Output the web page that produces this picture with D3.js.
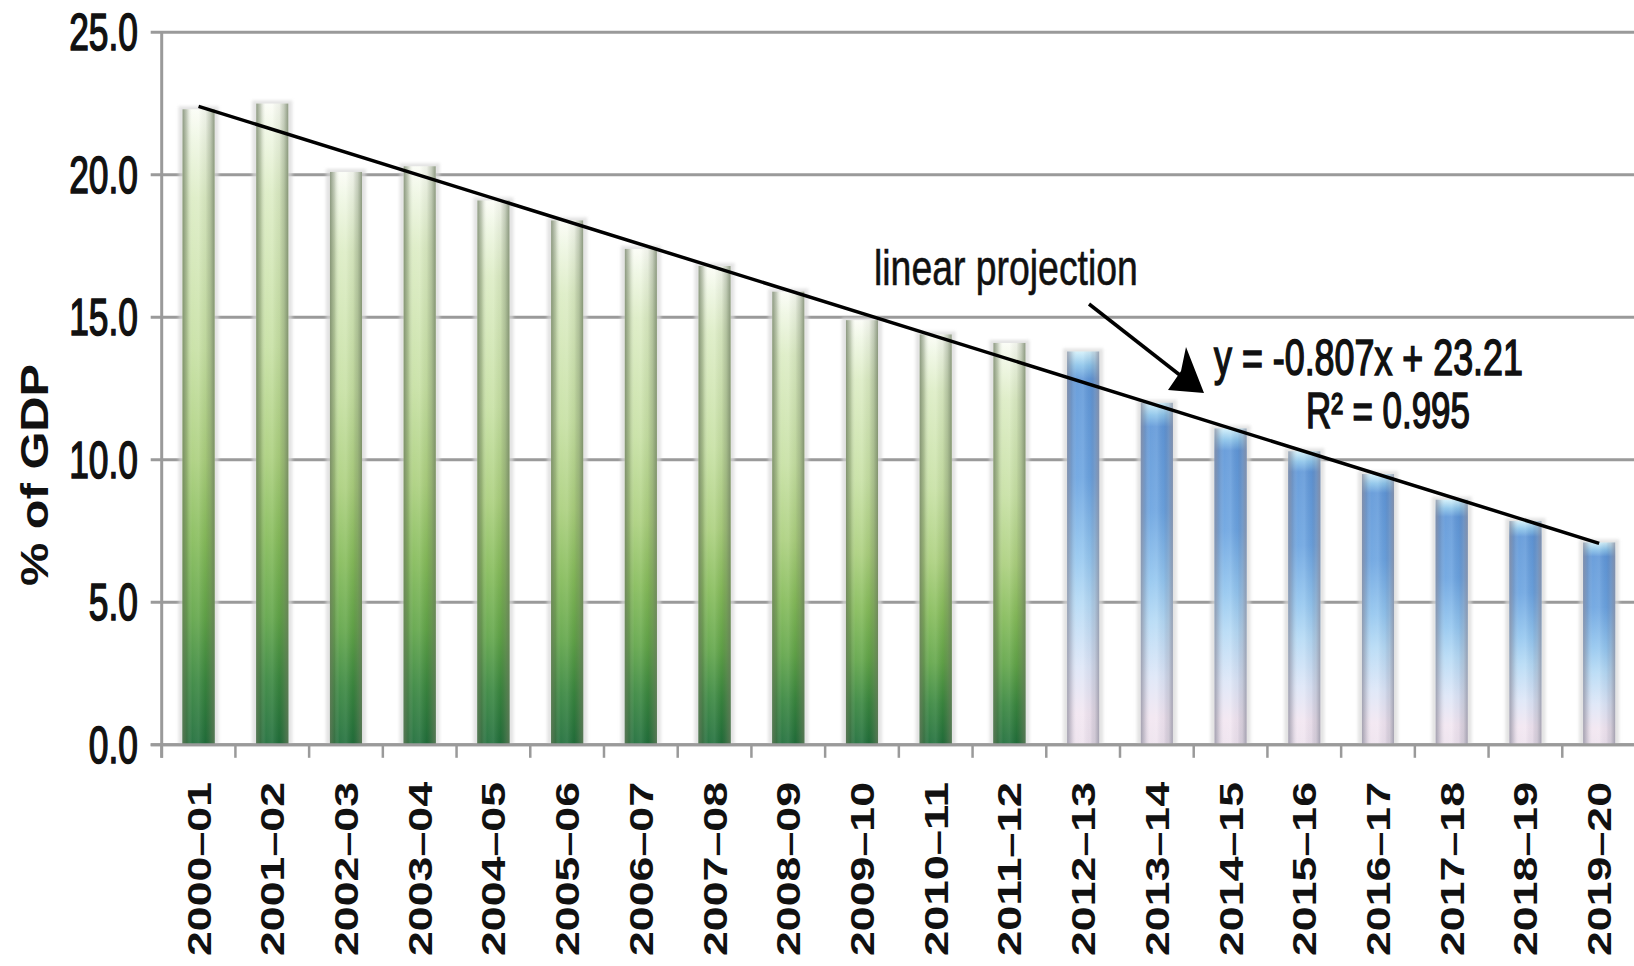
<!DOCTYPE html>
<html>
<head>
<meta charset="utf-8">
<script src="https://cdn.jsdelivr.net/npm/d3@7/dist/d3.min.js"></script>
<style>
  html, body { margin: 0; padding: 0; background: #fff; }
  svg { display: block; }
</style>
</head>
<body>
<svg id="chart" width="1634" height="966"></svg>
<script>
// Fiscal years on the category axis
const years = [
  "2000–01", "2001–02", "2002–03", "2003–04", "2004–05",
  "2005–06", "2006–07", "2007–08", "2008–09", "2009–10",
  "2010–11", "2011–12", "2012–13", "2013–14", "2014–15",
  "2015–16", "2016–17", "2017–18", "2018–19", "2019–20"
];
// Observed values, % of GDP (2000–01 to 2011–12)
const actual = [22.3, 22.5, 20.1, 20.3, 19.1, 18.4, 17.4, 16.8, 15.9, 14.9, 14.4, 14.1];
// Projected values, % of GDP (2012–13 to 2019–20)
const projected = [13.8, 12.0, 11.1, 10.3, 9.5, 8.6, 7.85, 7.1];
// Value axis ticks
const yTicks = [0, 5, 10, 15, 20, 25];
// Linear trend y = slope * x + intercept, x = 1..20
const trendSlope = -0.807;
const trendIntercept = 23.21;
const trendR2 = 0.995;

const rows = years.map((y, i) => ({
  year: y,
  value: i < actual.length ? actual[i] : projected[i - actual.length],
  kind: i < actual.length ? "actual" : "projected"
}));

const svg = d3.select("#chart");
const plotLeft = 161.7, plotRight = 1636, plotTop = 32.3, plotBottom = 744.8;

const x = d3.scaleBand().domain(years).range([plotLeft, plotRight])
  .paddingInner(0.565).paddingOuter(0.2825);
const y = d3.scaleLinear().domain([0, 25]).range([plotBottom, plotTop]);

const defs = svg.append("defs");

function vGrad(id, stops) {
  const g = defs.append("linearGradient").attr("id", id)
    .attr("x1", 0).attr("y1", 0).attr("x2", 0).attr("y2", 1);
  stops.forEach(([o, c]) => g.append("stop").attr("offset", o).attr("stop-color", c));
}
function hGrad(id, stops) {
  const g = defs.append("linearGradient").attr("id", id)
    .attr("x1", 0).attr("y1", 0).attr("x2", 1).attr("y2", 0);
  stops.forEach(([o, c, a]) => g.append("stop").attr("offset", o)
    .attr("stop-color", c).attr("stop-opacity", a));
}

vGrad("greenFill", [
  [0, "#fbfdf6"], [0.05, "#eef6e2"], [0.14, "#dcecc4"], [0.38, "#c6e0a2"],
  [0.55, "#aacf7c"], [0.68, "#84bb58"], [0.8, "#5fa446"], [0.9, "#36853c"],
  [1, "#1b6b37"]
]);
vGrad("blueFill", [
  [0, "#d2f0fa"], [0.035, "#8cc4ea"], [0.07, "#5f97d8"], [0.32, "#6aa3e0"],
  [0.52, "#93c6ef"], [0.64, "#b5daf5"], [0.8, "#dde6f7"], [0.92, "#f2e6f1"],
  [1, "#eee3ee"]
]);
hGrad("greenShade", [
  [0, "#6b7a5e", 0.75], [0.14, "#6b7a5e", 0.35], [0.3, "#ffffff", 0.08],
  [0.5, "#ffffff", 0.12], [0.72, "#556048", 0.08], [0.86, "#6b7a5e", 0.35],
  [1, "#6b7a5e", 0.75]
]);
hGrad("blueShade", [
  [0, "#8c8c9c", 0.75], [0.14, "#8c8c9c", 0.3], [0.3, "#ffffff", 0.08],
  [0.5, "#ffffff", 0.12], [0.72, "#404060", 0.06], [0.86, "#8c8c9c", 0.3],
  [1, "#8c8c9c", 0.75]
]);
defs.append("filter").attr("id", "soft").attr("x", "-50%").attr("width", "200%")
  .append("feGaussianBlur").attr("stdDeviation", 1.6);

// Gridlines and value axis
const grid = svg.append("g");
grid.selectAll("line").data(yTicks).join("line")
  .attr("x1", plotLeft - 11).attr("x2", plotRight)
  .attr("y1", d => y(d)).attr("y2", d => y(d))
  .attr("stroke", "#9a9a9a").attr("stroke-width", 3);
svg.append("line")
  .attr("x1", plotLeft).attr("x2", plotLeft).attr("y1", y(25)).attr("y2", plotBottom + 13)
  .attr("stroke", "#9a9a9a").attr("stroke-width", 3);

// Category tick marks at band boundaries
const step = x.step();
svg.append("g").attr("transform", `translate(0,${plotBottom})`)
  .selectAll("line").data(d3.range(years.length + 1)).join("line")
  .attr("x1", i => plotLeft + i * step).attr("x2", i => plotLeft + i * step)
  .attr("y1", 0).attr("y2", 13)
  .attr("stroke", "#9a9a9a").attr("stroke-width", 2.5);

// Horizontally condensed text: scale a group so the string spans `width`
function squeezed(parent, txt, px, py, size, width, anchor, strokeW) {
  const g = parent.append("g");
  const t = g.append("text")
    .attr("font-family", "'Liberation Sans', Arial, sans-serif")
    .attr("font-size", size)
    .attr("fill", "#111")
    .attr("stroke", "#111").attr("stroke-width", strokeW)
    .attr("text-anchor", anchor)
    .text(txt);
  const k = width ? width / t.node().getComputedTextLength() : 0.68;
  g.attr("transform", `translate(${px},${py}) scale(${k},1)`);
  return g;
}

// Value axis labels, condensed numerals
const yAxisG = svg.append("g");
yTicks.forEach(v => squeezed(yAxisG, d3.format(".1f")(v), 138, y(v) + 18, 52, null, "end", 1.6));

// Axis title
svg.append("text")
  .attr("transform", `translate(48,475) rotate(-90)`)
  .attr("text-anchor", "middle")
  .attr("font-family", "'Liberation Sans', Arial, sans-serif")
  .attr("font-weight", "bold")
  .attr("font-size", 38)
  .attr("fill", "#111")
  .attr("textLength", 222)
  .attr("lengthAdjust", "spacingAndGlyphs")
  .text("% of GDP");

// Category labels, vertical
svg.append("g").selectAll("text").data(years).join("text")
  .attr("transform", d => `translate(${x(d) + x.bandwidth() / 2 + 12},782) rotate(-90)`)
  .attr("text-anchor", "end")
  .attr("font-family", "'Liberation Sans', Arial, sans-serif")
  .attr("font-weight", "bold")
  .attr("font-size", 34)
  .attr("fill", "#111")
  .attr("textLength", 174)
  .attr("lengthAdjust", "spacingAndGlyphs")
  .text(d => d);

// Bars: soft halo, vertical colour ramp, cylinder shading
const bars = svg.append("g").selectAll("g").data(rows).join("g");
bars.append("rect")
  .attr("x", d => x(d.year) - 4).attr("width", x.bandwidth() + 8)
  .attr("y", d => y(d.value) - 3).attr("height", d => y(0) - y(d.value) + 3)
  .attr("fill", "#d8d8d8").attr("opacity", 0.7).attr("filter", "url(#soft)");
bars.append("rect")
  .attr("x", d => x(d.year)).attr("width", x.bandwidth())
  .attr("y", d => y(d.value)).attr("height", d => y(0) - y(d.value))
  .attr("fill", d => d.kind === "actual" ? "url(#greenFill)" : "url(#blueFill)");
bars.append("rect")
  .attr("x", d => x(d.year)).attr("width", x.bandwidth())
  .attr("y", d => y(d.value)).attr("height", d => y(0) - y(d.value))
  .attr("fill", d => d.kind === "actual" ? "url(#greenShade)" : "url(#blueShade)");

// Bottom axis line drawn over the bar bases
svg.append("line")
  .attr("x1", plotLeft - 11).attr("x2", plotRight).attr("y1", plotBottom).attr("y2", plotBottom)
  .attr("stroke", "#9a9a9a").attr("stroke-width", 3);

// Trend line across band centres
const cx = i => x(years[i - 1]) + x.bandwidth() / 2;
const trendPts = [1, years.length].map(i => [cx(i), y(trendSlope * i + trendIntercept)]);
svg.append("path")
  .attr("d", d3.line()(trendPts))
  .attr("stroke", "#000").attr("stroke-width", 3.5).attr("fill", "none");

// Annotation
const notes = svg.append("g");
squeezed(notes, "linear projection", 874, 285, 50, 264, "start", 0.6);
squeezed(notes, `y = ${trendSlope}x + ${trendIntercept}`, 1214, 375, 50, 309, "start", 1.6);
squeezed(notes, `R² = ${trendR2}`, 1306, 428, 50, 164, "start", 1.6);

// Pointer arrow from the caption to the trend line
svg.append("line")
  .attr("x1", 1089).attr("y1", 304).attr("x2", 1190).attr("y2", 383)
  .attr("stroke", "#000").attr("stroke-width", 3.5);
svg.append("path")
  .attr("d", "M1204,393 L1186,347 L1181,371 L1168,390 Z")
  .attr("fill", "#000");
</script>
</body>
</html>
